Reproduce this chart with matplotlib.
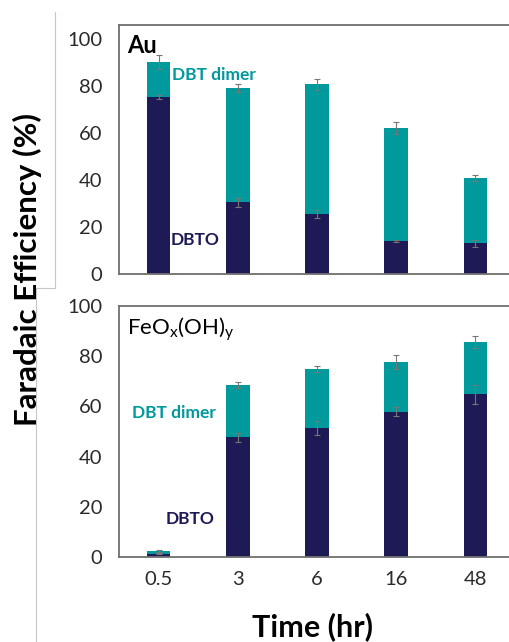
import matplotlib.pyplot as plt
from matplotlib.lines import Line2D

# Data
times = ['0.5', '3', '6', '16', '48']

au_dbto = [75.5, 30.5, 25.6, 14.1, 13.0]
au_dbto_err = [0.8, 2.0, 1.8, 0.5, 1.4]
au_total = [90.3, 79.0, 80.7, 62.2, 40.8]
au_total_err = [3.0, 1.7, 2.4, 2.7, 1.4]

fe_dbto = [1.3, 47.7, 51.3, 57.9, 64.8]
fe_dbto_err = [0.3, 1.9, 2.7, 1.7, 3.7]
fe_total = [2.3, 68.5, 74.9, 77.7, 85.7]
fe_total_err = [0.3, 1.2, 1.1, 2.9, 2.3]

navy = '#1e1a55'
teal = '#00999c'
frame = '#707070'

plt.rcParams['font.family'] = ['Lato', 'DejaVu Sans']

W, H = 510, 642
fig = plt.figure(figsize=(W / 100, H / 100), dpi=100)


def panel(rect, dbto, dbto_err, total, total_err, ymax):
    ax = fig.add_axes(rect)
    x = list(range(len(times)))
    dimer = [t - d for t, d in zip(total, dbto)]
    ax.bar(x, dbto, width=0.3, color=navy, zorder=2)
    ax.bar(x, dimer, width=0.3, bottom=dbto, color=teal, zorder=2)
    ax.errorbar(x, dbto, yerr=dbto_err, fmt='none', ecolor='#777777',
                elinewidth=0.8, capsize=2, capthick=0.8, zorder=3)
    ax.errorbar(x, total, yerr=total_err, fmt='none', ecolor='#777777',
                elinewidth=0.8, capsize=2, capthick=0.8, zorder=3)
    ax.set_xlim(-0.5, 4.5)
    ax.set_ylim(0, ymax)
    ax.set_yticks([0, 20, 40, 60, 80, 100])
    ax.set_xticks(x)
    ax.tick_params(length=0, labelsize=14.5, colors='#2a2a2a', pad=12)
    for s in ax.spines.values():
        s.set_color(frame)
        s.set_linewidth(1.3)
    return ax


ax1 = panel([119 / W, 1 - 274 / H, 396 / W, 249 / H],
            au_dbto, au_dbto_err, au_total, au_total_err, 106)
ax1.set_xticklabels([])
ax1.text(0.02, 0.965, 'Au', transform=ax1.transAxes, fontsize=17,
         fontweight='bold', va='top', ha='left')
ax1.text(0.165, 84.8, 'DBT dimer', color=teal, fontsize=12.5,
         fontweight='bold', va='center', ha='left')
ax1.text(0.15, 14.3, 'DBTO', color=navy, fontsize=12.5,
         fontweight='bold', va='center', ha='left')

ax2 = panel([119 / W, 1 - 557 / H, 396 / W, 251 / H],
            fe_dbto, fe_dbto_err, fe_total, fe_total_err, 100)
ax2.set_xticklabels(times)
ax2.tick_params(axis='x', pad=10)
ax2.text(0.02, 0.965, r'FeO$_{\mathregular{x}}$(OH)$_{\mathregular{y}}$',
         transform=ax2.transAxes, fontsize=16, va='top', ha='left')
ax2.text(-0.34, 57.2, 'DBT dimer', color=teal, fontsize=12.5,
         fontweight='bold', va='center', ha='left')
ax2.text(0.09, 15.2, 'DBTO', color=navy, fontsize=12.5,
         fontweight='bold', va='center', ha='left')

fig.text(27 / W, 1 - 270 / H, 'Faradaic Efficiency (%)', rotation=90,
         fontsize=22.5, fontweight='bold', ha='center', va='center')
fig.text(313 / W, 1 - 612 / H, 'Time (hr)', fontsize=22,
         fontweight='bold', ha='center', va='top')

# thin grey crop lines at the left edge of the original picture
grey = '#c8c8c8'
fig.add_artist(Line2D([55 / W, 55 / W], [1 - 12 / H, 1 - 288 / H],
                      color=grey, lw=0.8))
fig.add_artist(Line2D([34 / W, 55 / W], [1 - 288 / H, 1 - 288 / H],
                      color=grey, lw=0.8))
fig.add_artist(Line2D([36 / W, 36 / W], [1 - 288 / H, 0],
                      color=grey, lw=0.8))

fig.savefig('out.png', dpi=100)
